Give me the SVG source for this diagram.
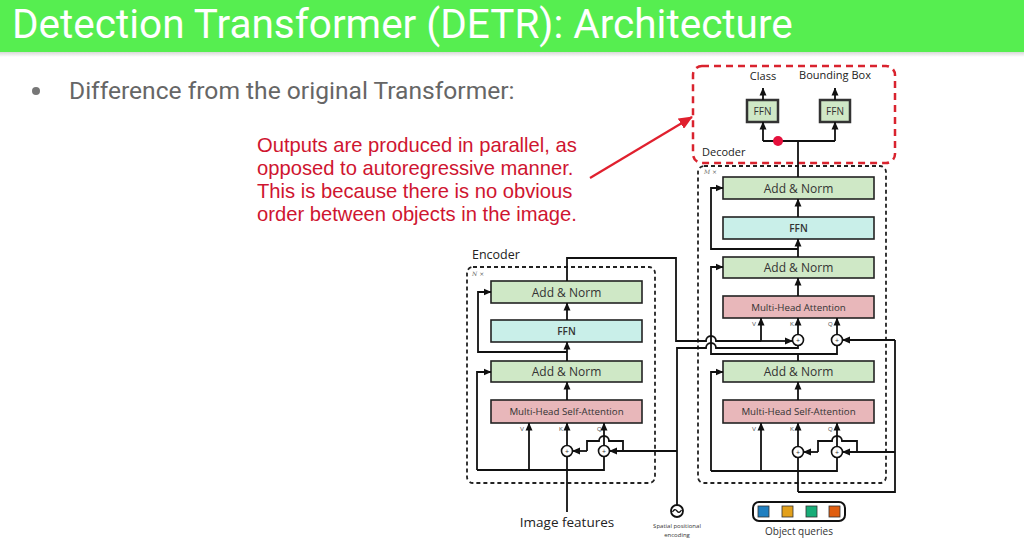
<svg xmlns="http://www.w3.org/2000/svg" width="1024" height="542" viewBox="0 0 1024 542">
<defs>
<marker id="ah" markerWidth="8" markerHeight="8" refX="7.5" refY="4" orient="auto" markerUnits="userSpaceOnUse"><path d="M0,0.5 L8,4 L0,7.5 z" fill="#111"/></marker>
<marker id="rah" markerWidth="14" markerHeight="12" refX="13" refY="6" orient="auto" markerUnits="userSpaceOnUse"><path d="M0,0 L14,6 L0,12 z" fill="#e0202e"/></marker>
<linearGradient id="sh" x1="0" y1="0" x2="0" y2="1"><stop offset="0" stop-color="#d8d8d8"/><stop offset="1" stop-color="#ffffff"/></linearGradient>
</defs>
<style>
.ln{fill:none;stroke:#111;stroke-width:1.8}
.ar{fill:none;stroke:#111;stroke-width:1.8;marker-end:url(#ah)}
.an{fill:#cfe8c6;stroke:#222;stroke-width:1.6}
.ff{fill:#c9efe9;stroke:#222;stroke-width:1.6}
.mh{fill:#e8b7ba;stroke:#222;stroke-width:1.6}
.t{font-family:"Open Sans","Liberation Sans",sans-serif;fill:#333;text-anchor:middle}
.tan{font-size:12px}
.tff{font-size:10px;font-weight:600}
.tmh{font-size:9.7px}
.lbl{font-family:"Open Sans","Liberation Sans",sans-serif;fill:#222}
.vkq{font-family:"Liberation Sans",sans-serif;font-size:6px;fill:#555}
.box{fill:none;stroke:#222;stroke-width:1.8;stroke-dasharray:4 3}
.circ{fill:#fff;stroke:#111;stroke-width:1.6}
.red{font-family:"Liberation Sans",Arial,sans-serif;font-size:20.2px;fill:#cf1530}
</style>
<rect width="1024" height="542" fill="#fff"/>
<!-- header -->
<rect x="0" y="0" width="1024" height="52" fill="#56ee50"/>
<rect x="0" y="52" width="1024" height="5" fill="url(#sh)"/>
<text x="12" y="38" font-family="Roboto,'Liberation Sans',sans-serif" font-size="40.5" fill="#fff">Detection Transformer (DETR): Architecture</text>
<circle cx="36" cy="91" r="4" fill="#777"/>
<text x="69" y="99" font-family="Roboto,'Liberation Sans',sans-serif" font-size="24.6" fill="#666">Difference from the original Transformer:</text>
<!-- red annotation -->
<g id="annotation">
<text class="red" x="257" y="152">Outputs are produced in parallel, as</text>
<text class="red" x="257" y="175">opposed to autoregressive manner.</text>
<text class="red" x="257" y="198">This is because there is no obvious</text>
<text class="red" x="257" y="221">order between objects in the image.</text>
<line x1="590" y1="178" x2="692" y2="117" stroke="#e0202e" stroke-width="2.2" marker-end="url(#rah)"/>
</g>
<!-- output heads -->
<g id="heads">
<rect x="693" y="66" width="202" height="97" rx="9" fill="none" stroke="#d9232e" stroke-width="2.5" stroke-dasharray="7 5"/>
<text class="lbl" x="763" y="80" font-size="11" text-anchor="middle">Class</text>
<text class="lbl" x="835" y="79" font-size="11" text-anchor="middle">Bounding Box</text>
<rect x="747" y="100" width="31" height="22" fill="#cfe8c6" stroke="#333" stroke-width="2.5"/>
<text class="t" x="762.5" y="115" font-size="10">FFN</text>
<rect x="820" y="100" width="30" height="22" fill="#cfe8c6" stroke="#333" stroke-width="2.5"/>
<text class="t" x="835" y="115" font-size="10">FFN</text>
<text class="lbl" x="702" y="156" font-size="11">Decoder</text>
</g>
<!-- encoder -->
<g id="encoder">
<text class="lbl" x="472" y="259" font-size="12.5">Encoder</text>
<rect class="box" x="467" y="267" width="188" height="216" rx="6"/>
<text x="472" y="276" font-family="DejaVu Serif,serif" font-style="italic" font-size="6" fill="#666">N ×</text>
<rect class="an" x="491" y="281" width="151" height="22"/><text class="t tan" x="566.5" y="296.5">Add &amp; Norm</text>
<rect class="ff" x="491" y="320" width="151" height="22"/><text class="t tff" x="566.5" y="335">FFN</text>
<rect class="an" x="491" y="361" width="151" height="21"/><text class="t tan" x="566.5" y="376">Add &amp; Norm</text>
<rect class="mh" x="491" y="400" width="151" height="23"/><text class="t tmh" x="566.5" y="415">Multi-Head Self-Attention</text>
<text class="vkq" x="520" y="431">V</text><text class="vkq" x="559" y="431">K</text><text class="vkq" x="597" y="431">Q</text>
<circle class="circ" cx="567" cy="451" r="5.5"/><text class="t" x="567" y="453.5" font-size="7">+</text>
<circle class="circ" cx="604" cy="451" r="5.5"/><text class="t" x="604" y="453.5" font-size="7">+</text>
</g>
<!-- decoder -->
<g id="decoder">
<rect class="box" x="698" y="166" width="188" height="317" rx="6"/>
<text x="704" y="174" font-family="DejaVu Serif,serif" font-style="italic" font-size="6" fill="#666">M ×</text>
<rect class="an" x="723" y="177" width="151" height="22"/><text class="t tan" x="798.5" y="192.5">Add &amp; Norm</text>
<rect class="ff" x="723" y="217" width="151" height="22"/><text class="t tff" x="798.5" y="232">FFN</text>
<rect class="an" x="723" y="257" width="151" height="21"/><text class="t tan" x="798.5" y="272">Add &amp; Norm</text>
<rect class="mh" x="723" y="296" width="151" height="22"/><text class="t tmh" x="798.5" y="310.5">Multi-Head Attention</text>
<text class="vkq" x="752" y="326">V</text><text class="vkq" x="790" y="326">K</text><text class="vkq" x="828" y="326">Q</text>
<circle class="circ" cx="798" cy="340" r="5.5"/><text class="t" x="798" y="342.5" font-size="7">+</text>
<circle class="circ" cx="837" cy="340" r="5.5"/><text class="t" x="837" y="342.5" font-size="7">+</text>
<rect class="an" x="723" y="361" width="151" height="21"/><text class="t tan" x="798.5" y="376">Add &amp; Norm</text>
<rect class="mh" x="723" y="400" width="151" height="23"/><text class="t tmh" x="798.5" y="415">Multi-Head Self-Attention</text>
<text class="vkq" x="752" y="431">V</text><text class="vkq" x="790" y="431">K</text><text class="vkq" x="828" y="431">Q</text>
<circle class="circ" cx="798" cy="452" r="5.5"/><text class="t" x="798" y="454.5" font-size="7">+</text>
<circle class="circ" cx="837" cy="452" r="5.5"/><text class="t" x="837" y="454.5" font-size="7">+</text>
</g>
<!-- inputs -->
<g id="image-features">
<text class="lbl" x="567" y="527" font-size="13.5" text-anchor="middle" fill="#333">Image features</text>
</g>
<g id="positional-encoding">
<circle cx="677" cy="511" r="6" fill="#fff" stroke="#111" stroke-width="1.8"/>
<path d="M672.5,512 q2.2,-4 4.5,-1 t4.5,-1" fill="none" stroke="#111" stroke-width="1.3"/>
<text class="t" x="677" y="528" font-size="6">Spatial  positional</text>
<text class="t" x="677" y="537" font-size="6">encoding</text>
</g>
<g id="object-queries">
<rect x="753" y="502" width="92" height="19" rx="6" fill="#fff" stroke="#111" stroke-width="2"/>
<rect x="758" y="506" width="11" height="11" fill="#1f7fc0" stroke="#333" stroke-width="0.8"/>
<rect x="782" y="506" width="11" height="11" fill="#e3a11c" stroke="#333" stroke-width="0.8"/>
<rect x="806" y="506" width="11" height="11" fill="#18ad78" stroke="#333" stroke-width="0.8"/>
<rect x="829" y="506" width="11" height="11" fill="#e05e10" stroke="#333" stroke-width="0.8"/>
<text class="t" x="799" y="535" font-size="10" fill="#555">Object queries</text>
</g>
<!-- connectors -->
<g id="connectors">
<!-- encoder internal -->
<path class="ln" d="M567,512 V457"/>
<path class="ar" d="M567,445.5 V423"/>
<path class="ln" d="M477,470 H604 V457"/>
<path class="ar" d="M604,445.5 V423"/>
<path class="ar" d="M529,470 V423"/>
<path class="ar" d="M477,470 V372 H491"/>
<path class="ln" d="M623,451 V441 H609 A5,5 0 0 0 599,441 H587 V451"/>
<path class="ar" d="M587,451 H572.5"/>
<path class="ar" d="M677,451 H609.5"/>
<path class="ar" d="M567,400 V382"/>
<path class="ar" d="M567,361 V342"/>
<path class="ar" d="M567,352 H478 V292 H491"/>
<path class="ar" d="M567,320 V303"/>
<!-- encoder output & positional -->
<path class="ln" d="M567,281 V258 H676 V341 H706 A5,5 0 0 1 716,341 H761"/>
<path class="ar" d="M761,341 H792.5"/>
<path class="ar" d="M761,341 V318"/>
<path class="ln" d="M677,505 V348 H706 A5,5 0 0 1 716,348 H798 V345.5"/>
<!-- decoder internal -->
<path class="ln" d="M798,492 V457.5"/>
<path class="ar" d="M798,446.5 V423"/>
<path class="ln" d="M711,471 H837 V457.5"/>
<path class="ar" d="M837,446.5 V423"/>
<path class="ar" d="M761,471 V423"/>
<path class="ar" d="M711,471 V372 H723"/>
<path class="ln" d="M857,452 V441 H842 A5,5 0 0 0 832,441 H818 V452"/>
<path class="ar" d="M818,452 H803.5"/>
<path class="ln" d="M798,492 H895 V340"/>
<path class="ar" d="M895,452 H842.5"/>
<path class="ar" d="M895,340 H842.5"/>
<path class="ar" d="M798,400 V382"/>
<path class="ln" d="M798,361 V354 H837 V345.5"/>
<path class="ar" d="M798,354 H711 V267 H723"/>
<path class="ar" d="M798,334.5 V318"/>
<path class="ar" d="M837,334.5 V318"/>
<path class="ar" d="M798,296 V278"/>
<path class="ar" d="M798,257 V239"/>
<path class="ar" d="M798,249 H711 V188 H723"/>
<path class="ar" d="M798,217 V199"/>
<!-- heads -->
<path class="ln" d="M798,177 V141"/>
<path class="ln" d="M763,141 H835"/>
<path class="ar" d="M763,141 V122"/>
<path class="ar" d="M835,141 V122"/>
<path class="ar" d="M763,100 V88"/>
<path class="ar" d="M835,100 V88"/>
<circle cx="778" cy="141" r="5" fill="#e5103c"/>
</g>
</svg>
